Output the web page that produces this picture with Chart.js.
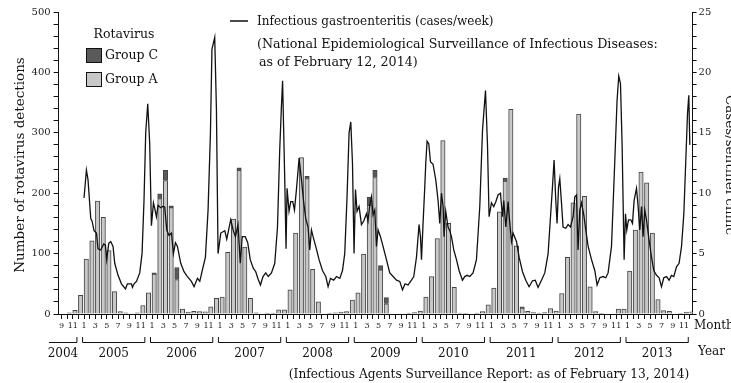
<!DOCTYPE html>
<html>
<head>
<meta charset="utf-8">
<script src="https://cdn.jsdelivr.net/npm/chart.js@4"></script>
<style>
  html, body { margin: 0; padding: 0; background: #fff; }
  #wrap { width: 731px; height: 383px; }
</style>
</head>
<body>
<div id="wrap"><canvas id="chart" width="731" height="383"></canvas></div>
<script>
// Monthly rotavirus detections, Sep 2004 .. Dec 2013
const START_YEAR = 2004;
const START_MONTH = 9;
const yearLabels = ['2004', '2005', '2006', '2007', '2008', '2009', '2010', '2011', '2012', '2013'];

const groupA = [
  0, 2, 6, 31,                                        // 2004 Sep-Dec
  91, 121, 187, 160, 105, 37, 4, 2, 0, 2, 14, 35,     // 2005
  66, 191, 221, 176, 57, 8, 3, 4.5, 4, 3.5, 12, 26,   // 2006
  28, 102, 157, 238, 111, 26, 2, 0, 1.5, 1.5, 7, 7,   // 2007
  40, 134, 259, 224, 74, 20, 0, 1.5, 2, 3, 4, 23,     // 2008
  35, 99, 180, 226, 73, 17, 0, 0, 0, 1.5, 2.5, 5,     // 2009
  28, 62, 125, 287, 150, 44, 1.5, 1, 0, 1.5, 4, 15,   // 2010
  43, 169, 220, 339, 113, 10, 4.5, 2.5, 1.5, 2.5, 9, 5, // 2011
  34, 94, 184, 331, 195, 45, 4, 1, 0, 0, 8, 8,        // 2012
  71, 139, 235, 217, 134, 24, 5.5, 4.5, 0, 1, 3, 3.5  // 2013
];

const groupC = [
  0, 0, 0, 0,
  0, 0, 0, 0, 0, 0, 0, 0, 0, 0, 0, 0,
  2, 8, 17, 3, 20, 0, 0, 0, 0, 0, 0, 0,
  0, 0, 0, 4, 0, 0, 0, 0, 0, 0, 0, 0,
  0, 0, 0, 4, 0, 0, 0, 0, 0, 0, 0, 0,
  0, 0, 13, 12, 7, 10, 0, 0, 0, 0, 0, 0,
  0, 0, 0, 0, 0, 0, 0, 0, 0, 0, 0, 0,
  0, 0, 5, 0, 0, 2, 0, 0, 0, 0, 0, 0,
  0, 0, 0, 0, 0, 0, 0, 0, 0, 0, 0, 0,
  0, 0, 0, 0, 0, 0, 0, 0, 0, 0, 0, 0
];

// Infectious gastroenteritis, cases per sentinel clinic
const gastroDate = [
  2005.041, 2005.076, 2005.100, 2005.140, 2005.159, 2005.188, 2005.224, 2005.247, 2005.287, 2005.331,
  2005.356, 2005.375, 2005.405, 2005.434, 2005.468, 2005.493, 2005.542, 2005.592, 2005.651, 2005.680,
  2005.739, 2005.754, 2005.777, 2005.813, 2005.861, 2005.895, 2005.924, 2005.949, 2005.979, 2006.008,
  2006.033, 2006.063, 2006.082, 2006.107, 2006.131, 2006.170, 2006.200, 2006.229, 2006.259, 2006.292,
  2006.328, 2006.357, 2006.387, 2006.416, 2006.465, 2006.513, 2006.563, 2006.622, 2006.661, 2006.711,
  2006.745, 2006.778, 2006.828, 2006.867, 2006.902, 2006.924, 2006.965, 2006.990, 2007.014, 2007.054,
  2007.113, 2007.142, 2007.171, 2007.201, 2007.238, 2007.270, 2007.308, 2007.341, 2007.370, 2007.414,
  2007.451, 2007.488, 2007.532, 2007.569, 2007.603, 2007.638, 2007.676, 2007.716, 2007.753, 2007.800,
  2007.849, 2007.889, 2007.922, 2007.947, 2007.964, 2007.996, 2008.015, 2008.030, 2008.059, 2008.084,
  2008.114, 2008.139, 2008.168, 2008.207, 2008.242, 2008.276, 2008.305, 2008.339, 2008.364, 2008.389,
  2008.413, 2008.452, 2008.501, 2008.551, 2008.600, 2008.634, 2008.669, 2008.717, 2008.757, 2008.806,
  2008.846, 2008.879, 2008.913, 2008.943, 2008.968, 2008.993, 2009.016, 2009.037, 2009.060, 2009.090,
  2009.125, 2009.159, 2009.199, 2009.222, 2009.247, 2009.273, 2009.296, 2009.321, 2009.346, 2009.370,
  2009.405, 2009.443, 2009.493, 2009.542, 2009.591, 2009.641, 2009.689, 2009.729, 2009.767, 2009.811,
  2009.861, 2009.895, 2009.935, 2009.973, 2009.994, 2010.009, 2010.032, 2010.057, 2010.072, 2010.091,
  2010.116, 2010.141, 2010.179, 2010.219, 2010.253, 2010.278, 2010.303, 2010.327, 2010.341, 2010.366,
  2010.400, 2010.425, 2010.450, 2010.484, 2010.524, 2010.562, 2010.612, 2010.646, 2010.680, 2010.720,
  2010.768, 2010.818, 2010.867, 2010.907, 2010.951, 2010.980, 2011.004, 2011.039, 2011.073, 2011.103,
  2011.136, 2011.172, 2011.201, 2011.220, 2011.250, 2011.284, 2011.298, 2011.334, 2011.357, 2011.407,
  2011.446, 2011.496, 2011.544, 2011.593, 2011.643, 2011.684, 2011.725, 2011.775, 2011.824, 2011.873,
  2011.908, 2011.937, 2011.961, 2011.986, 2012.005, 2012.026, 2012.045, 2012.070, 2012.093, 2012.133,
  2012.167, 2012.202, 2012.241, 2012.266, 2012.291, 2012.314, 2012.339, 2012.364, 2012.398, 2012.428,
  2012.462, 2012.512, 2012.560, 2012.594, 2012.634, 2012.682, 2012.722, 2012.756, 2012.806, 2012.855,
  2012.888, 2012.913, 2012.938, 2012.962, 2012.992, 2013.012, 2013.031, 2013.056, 2013.090, 2013.115,
  2013.139, 2013.174, 2013.198, 2013.223, 2013.248, 2013.271, 2013.296, 2013.321, 2013.360, 2013.395,
  2013.429, 2013.469, 2013.507, 2013.542, 2013.576, 2013.616, 2013.654, 2013.689, 2013.723, 2013.763,
  2013.801, 2013.837, 2013.871, 2013.900, 2013.925, 2013.944, 2013.959
];
const gastroCases = [
  9.6, 11.9, 11.1, 7.9, 7.7, 6.9, 6.7, 5.4, 5.3, 5.8,
  5.7, 4.5, 5.85, 6.0, 5.6, 4.2, 3.2, 2.5, 2.07, 2.5,
  2.5, 2.2, 2.5, 2.7, 3.4, 5.0, 9.4, 15.0, 17.4, 14.1,
  7.3, 9.2, 8.75, 8.05, 9.0, 8.8, 8.9, 8.85, 6.95, 6.5,
  6.7, 5.0, 5.9, 5.6, 4.2, 3.5, 3.1, 2.7, 2.26, 2.95,
  2.7, 3.5, 4.7, 8.6, 15.0, 21.9, 22.9, 17.0, 5.0, 6.7,
  6.9, 6.2, 7.0, 7.8, 6.9, 6.4, 7.4, 4.2, 6.4, 6.4,
  5.9, 4.5, 3.8, 3.5, 2.9, 2.4, 3.1, 3.4, 3.1, 3.4,
  4.2, 7.2, 13.6, 17.2, 19.3, 11.1, 5.4, 10.4, 8.5, 9.3,
  9.3, 8.6, 10.3, 12.9, 11.1, 9.2, 7.9, 7.2, 5.3, 6.95,
  6.4, 5.6, 4.5, 3.6, 3.1, 2.26, 2.95, 2.8, 3.1, 2.95,
  3.6, 5.0, 9.7, 15.0, 15.9, 12.5, 5.0, 10.3, 8.5, 8.9,
  7.4, 7.7, 8.3, 7.7, 9.0, 9.7, 8.2, 8.6, 5.6, 6.95,
  6.4, 5.6, 4.5, 3.4, 3.1, 2.8, 2.7, 2.0, 2.5, 2.4,
  2.8, 3.1, 4.7, 7.4, 6.4, 4.5, 7.5, 10.5, 12.5, 14.3,
  14.1, 12.6, 12.4, 11.1, 9.4, 7.5, 10.0, 8.9, 6.4, 8.5,
  7.2, 6.9, 6.4, 5.3, 4.5, 3.6, 2.8, 3.1, 3.2, 3.1,
  3.4, 4.5, 8.9, 15.2, 18.5, 14.1, 8.05, 9.2, 8.9, 9.3,
  9.85, 10.0, 8.05, 9.4, 7.2, 9.3, 8.2, 6.0, 6.7, 6.0,
  4.7, 3.5, 2.8, 2.26, 2.75, 2.8, 2.2, 2.8, 3.4, 5.0,
  8.05, 10.5, 12.75, 9.4, 7.5, 10.5, 11.2, 9.2, 7.2, 7.1,
  7.4, 7.2, 8.05, 9.7, 9.85, 5.3, 8.6, 9.2, 8.2, 6.95,
  5.6, 4.5, 3.6, 2.4, 3.0, 3.1, 3.0, 3.4, 5.6, 12.75,
  17.7, 19.7, 19.1, 14.1, 4.5, 8.3, 6.95, 7.8, 7.8, 7.5,
  9.4, 10.4, 8.9, 6.95, 8.9, 6.4, 8.6, 7.8, 6.1, 4.7,
  3.6, 3.2, 3.0, 2.26, 3.0, 3.1, 2.8, 3.2, 3.1, 3.9,
  4.2, 5.6, 8.3, 12.75, 16.6, 18.1, 14.0
];

const FONT = '"DejaVu Serif", serif';

// month number for every category (9, 10, 11, 12, 1, 2, ...)
const monthNums = groupA.map((_, i) => ((START_MONTH - 1 + i) % 12) + 1);
const monthLabels = monthNums.map(String);

const decor = {
  id: 'decor',
  afterDraw(chart) {
    const ctx = chart.ctx;
    const xs = chart.scales.x;
    ctx.save();
    ctx.fillStyle = '#111';
    ctx.strokeStyle = '#111';

    // year brackets under the month ticks
    const yLine = 342.5, yTick = 337;
    ctx.lineWidth = 1;
    yearLabels.forEach(label => {
      const year = Number(label);
      const first = Math.max(0, (year - START_YEAR) * 12 - (START_MONTH - 1));
      const last = (year - START_YEAR) * 12 - (START_MONTH - 1) + 11;
      let x0 = xs.getPixelForValue(first) - 1.5;
      const x1 = xs.getPixelForValue(last) - 1.5;
      const leftCut = year === START_YEAR;
      if (leftCut) x0 = xs.getPixelForValue(0) - 12.5;
      ctx.beginPath();
      if (!leftCut) { ctx.moveTo(x0, yTick); ctx.lineTo(x0, yLine); } else { ctx.moveTo(x0, yLine); }
      ctx.lineTo(x1, yLine);
      ctx.lineTo(x1, yTick);
      ctx.stroke();
      ctx.font = `12px ${FONT}`;
      ctx.textAlign = 'center';
      ctx.textBaseline = 'middle';
      ctx.fillText(label, (x0 + x1) / 2, 354);
    });

    ctx.font = `12px ${FONT}`;
    ctx.textAlign = 'left';
    ctx.textBaseline = 'middle';
    ctx.fillText('Month', 694, 326);
    ctx.fillText('Year', 698, 352);

    // source note
    ctx.font = `12.2px ${FONT}`;
    ctx.textAlign = 'center';
    ctx.fillText('(Infectious Agents Surveillance Report: as of February 13, 2014)', 489, 375);

    // rotavirus legend
    ctx.font = `12.5px ${FONT}`;
    ctx.textAlign = 'center';
    ctx.fillText('Rotavirus', 124, 35);
    ctx.lineWidth = 1;
    ctx.fillStyle = '#5a5a5a';
    ctx.fillRect(86.5, 48.5, 15, 14);
    ctx.strokeRect(86.5, 48.5, 15, 14);
    ctx.fillStyle = '#c8c8c8';
    ctx.fillRect(86.5, 72.5, 15, 14);
    ctx.strokeRect(86.5, 72.5, 15, 14);
    ctx.fillStyle = '#111';
    ctx.textAlign = 'left';
    ctx.fillText('Group C', 105, 56);
    ctx.fillText('Group A', 105, 80);

    // gastroenteritis legend
    ctx.lineWidth = 1.5;
    ctx.beginPath();
    ctx.moveTo(230, 21);
    ctx.lineTo(248, 21);
    ctx.stroke();
    ctx.font = `12px ${FONT}`;
    ctx.fillText('Infectious gastroenteritis (cases/week)', 257, 22);
    ctx.font = `12.7px ${FONT}`;
    ctx.fillText('(National Epidemiological Surveillance of Infectious Diseases:', 257, 45);
    ctx.fillText('as of February 12, 2014)', 259, 63);

    // axis titles
    ctx.font = `13.5px ${FONT}`;
    ctx.textAlign = 'center';
    ctx.textBaseline = 'alphabetic';
    ctx.save();
    ctx.translate(24, 165);
    ctx.rotate(-Math.PI / 2);
    ctx.fillText('Number of rotavirus detections', 0, 0);
    ctx.restore();
    ctx.save();
    ctx.translate(726, 165);
    ctx.rotate(Math.PI / 2);
    ctx.fillText('Cases/sentinel clinic', 0, 0);
    ctx.restore();

    ctx.restore();
  }
};

const tickFont = { family: FONT, size: 10 };

new Chart(document.getElementById('chart'), {
  type: 'bar',
  data: {
    labels: monthLabels,
    datasets: [
      {
        type: 'line',
        label: 'Infectious gastroenteritis',
        data: gastroDate.map((t, k) => ({ x: t, y: gastroCases[k] })),
        xAxisID: 'xw',
        yAxisID: 'yr',
        borderColor: '#111',
        borderWidth: 1.3,
        pointRadius: 0,
        tension: 0,
        order: 0
      },
      {
        label: 'Group A',
        data: groupA.map(v => v || null),
        xAxisID: 'x',
        yAxisID: 'y',
        backgroundColor: '#c8c8c8',
        borderColor: '#444',
        borderWidth: 1,
        barThickness: 4.4,
        order: 1
      },
      {
        label: 'Group C',
        data: groupC.map(v => v || null),
        xAxisID: 'x',
        yAxisID: 'y',
        backgroundColor: '#5a5a5a',
        borderColor: '#444',
        borderWidth: 1,
        barThickness: 4.4,
        order: 2
      }
    ]
  },
  options: {
    responsive: false,
    animation: false,
    layout: { padding: { top: 12, left: 0, right: 0, bottom: 0 } },
    plugins: { legend: { display: false }, tooltip: { enabled: false } },
    scales: {
      x: {
        type: 'category',
        stacked: true,
        offset: true,
        border: { color: '#111', width: 1 },
        grid: { offset: false, drawOnChartArea: false, tickLength: 5, tickColor: '#111' },
        ticks: {
          autoSkip: false,
          maxRotation: 0,
          minRotation: 0,
          padding: 2,
          color: '#222',
          font: { family: FONT, size: 8 },
          callback: (v, i) => (monthNums[i] % 2 ? monthLabels[i] : '')
        },
        afterFit: s => { s.height = 69; }
      },
      xw: {
        type: 'linear',
        display: false,
        offset: false,
        bounds: 'data',
        grid: { offset: false },
        min: START_YEAR + (START_MONTH - 1) / 12,
        max: 2014
      },
      y: {
        position: 'left',
        stacked: true,
        min: 0,
        max: 500,
        border: { color: '#111', width: 1 },
        grid: { drawOnChartArea: false, tickLength: 5, tickColor: '#111' },
        ticks: {
          autoSkip: false,
          stepSize: 20,
          padding: 3,
          color: '#222',
          font: tickFont,
          callback: v => (v % 100 === 0 ? v : '')
        },
        afterFit: s => { s.width = 58.6; }
      },
      yr: {
        position: 'right',
        min: 0,
        max: 25,
        border: { color: '#111', width: 1 },
        grid: { drawOnChartArea: false, tickLength: 4, tickColor: '#111' },
        ticks: {
          autoSkip: false,
          stepSize: 1,
          padding: 2,
          color: '#222',
          font: tickFont,
          callback: v => (v % 5 === 0 ? v : '')
        },
        afterFit: s => { s.width = 38.4; }
      }
    }
  },
  plugins: [decor]
});
</script>
</body>
</html>
